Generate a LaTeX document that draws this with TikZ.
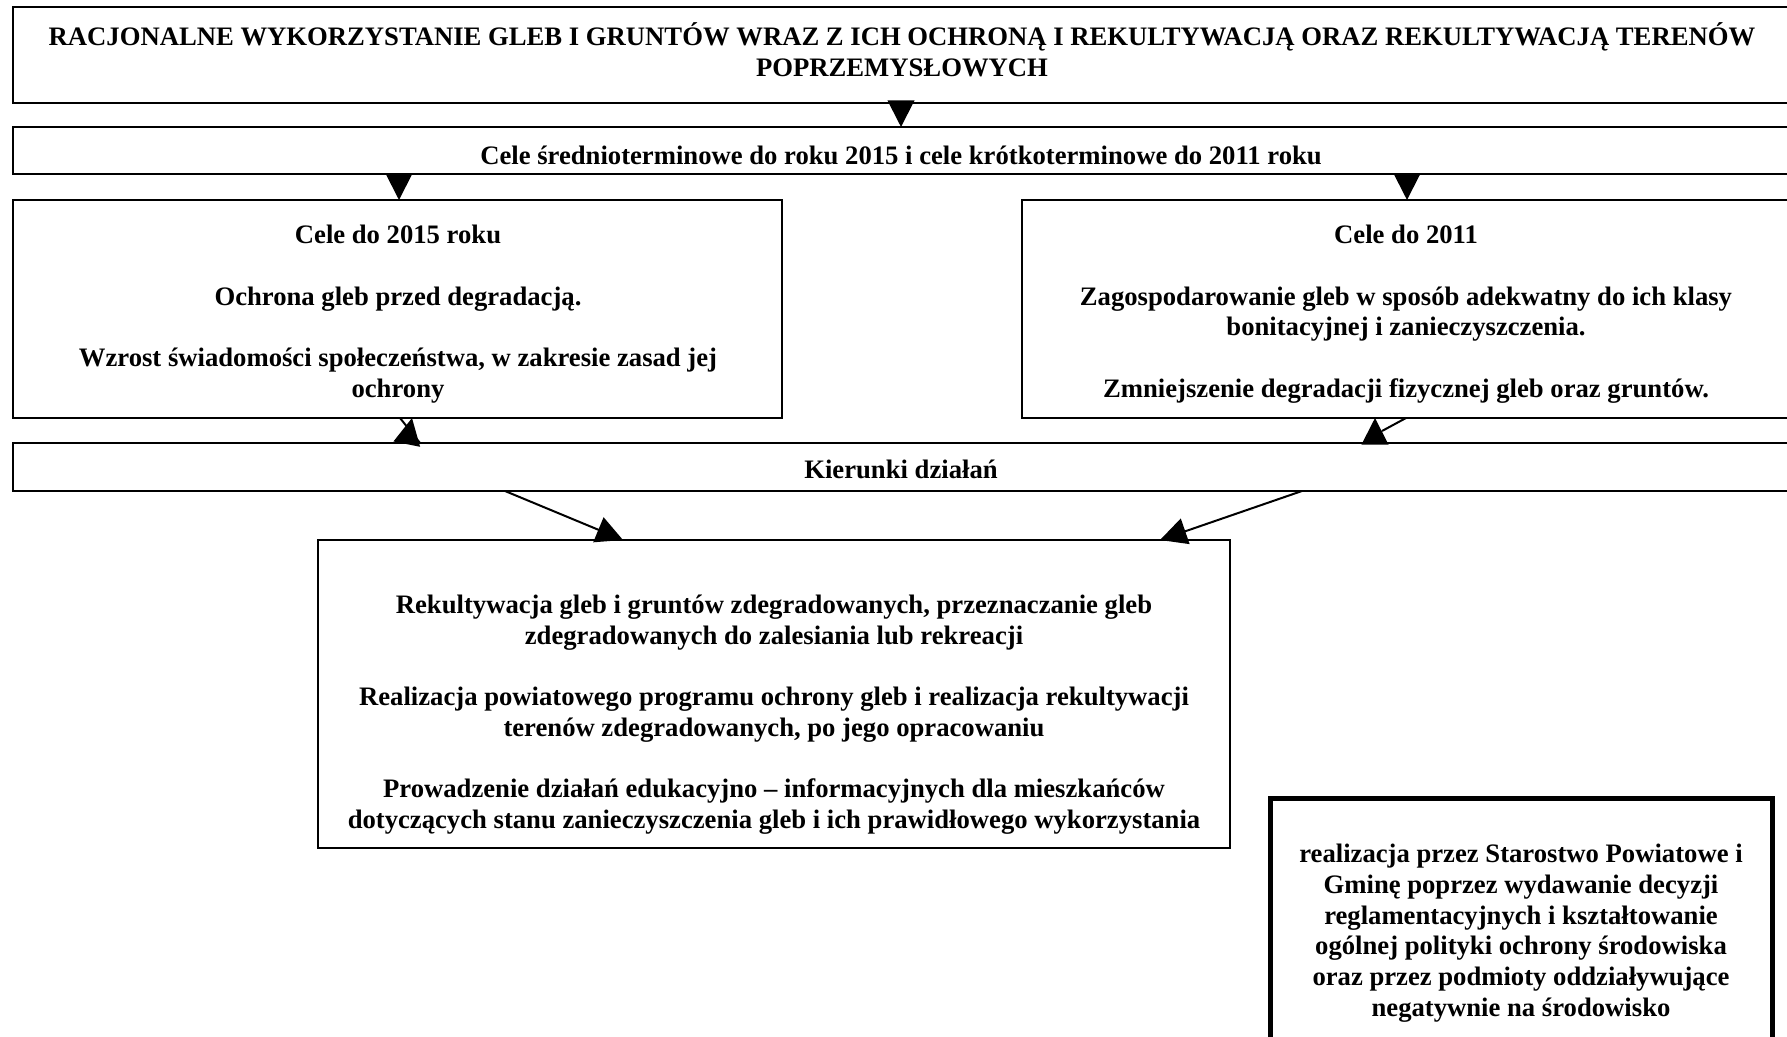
\documentclass[tikz,border=0pt]{standalone}
\usepackage{fontspec}
\setmainfont{Liberation Serif}
\usetikzlibrary{arrows.meta}
\begin{document}
\begin{tikzpicture}[x=0.45pt,y=-0.45pt,
  box/.style={draw, line width=0.9pt, inner sep=0pt, outer sep=0pt, anchor=north west},
  txt/.style={align=center, inner sep=0pt, font=\bfseries\fontsize{12}{13.8}\selectfont,
    execute at begin node=\strut, execute at end node=\strut},
  arr/.style={line width=0.9pt, -{Triangle[length=12pt,width=12pt]}},
  link/.style={line width=0.9pt}]
\useasboundingbox (0,0) rectangle (1787,1037);
\fill[white] (0,0) rectangle (1787,1037);
\clip (0,0) rectangle (1787,1037);

% frames
\node[box, minimum width={1777*0.45pt}, minimum height={96*0.45pt}] (goal) at (13,7) {};
\node[box, minimum width={1777*0.45pt}, minimum height={47*0.45pt}] (terms) at (13,127) {};
\node[box, minimum width={769*0.45pt}, minimum height={218*0.45pt}] (c2015) at (13,200) {};
\node[box, minimum width={768*0.45pt}, minimum height={218*0.45pt}] (c2011) at (1022,200) {};
\node[box, minimum width={1777*0.45pt}, minimum height={48*0.45pt}] (dirs) at (13,443) {};
\node[box, minimum width={912*0.45pt}, minimum height={308*0.45pt}] (acts) at (318,540) {};
\node[box, line width=2.25pt, minimum width={502*0.45pt}, minimum height={280*0.45pt}] (exec) at (1270,798) {};

% texts
\node[txt] (goalT) at (902,54) {RACJONALNE WYKORZYSTANIE GLEB I GRUNTÓW WRAZ Z ICH OCHRONĄ I REKULTYWACJĄ ORAZ REKULTYWACJĄ TERENÓW\\POPRZEMYSŁOWYCH};
\node[txt] (termsT) at (901,158) {Cele średnioterminowe do roku 2015 i cele krótkoterminowe do 2011 roku};
\node[txt] (c2015T) at (398,316) {Cele do 2015 roku\\[\baselineskip]Ochrona gleb przed degradacją.\\[\baselineskip]Wzrost świadomości społeczeństwa, w zakresie zasad jej\\ochrony};
\node[txt] (c2011T) at (1406,316) {Cele do 2011\\[\baselineskip]Zagospodarowanie gleb w sposób adekwatny do ich klasy\\bonitacyjnej i zanieczyszczenia.\\[\baselineskip]Zmniejszenie degradacji fizycznej gleb oraz gruntów.};
\node[txt] (dirsT) at (901,472) {Kierunki działań};
\node[txt] (actsT) at (774,716) {Rekultywacja gleb i gruntów zdegradowanych, przeznaczanie gleb\\zdegradowanych do zalesiania lub rekreacji\\[\baselineskip]Realizacja powiatowego programu ochrony gleb i realizacja rekultywacji\\terenów zdegradowanych, po jego opracowaniu\\[\baselineskip]Prowadzenie działań edukacyjno – informacyjnych dla mieszkańców\\dotyczących stanu zanieczyszczenia gleb i ich prawidłowego wykorzystania};
\node[txt] (execT) at (1521,935) {realizacja przez Starostwo Powiatowe i\\Gminę poprzez wydawanie decyzji\\reglamentacyjnych i kształtowanie\\ogólnej polityki ochrony środowiska\\oraz przez podmioty oddziaływujące\\negatywnie na środowisko};

% attachment abscissae
\coordinate (x399) at (399,0);
\coordinate (x400) at (400,0);
\coordinate (x407) at (407,0);
\coordinate (x412) at (412,0);
\coordinate (x420) at (420,0);
\coordinate (x505) at (505,0);
\coordinate (x623) at (623,0);
\coordinate (x901) at (901,0);
\coordinate (x1160) at (1160,0);
\coordinate (x1302) at (1302,0);
\coordinate (x1375) at (1375,0);
\coordinate (x1406) at (1406,0);
\coordinate (x1407) at (1407,0);
\coordinate (bend) at (1382,431);

% connectors
\draw[arr] (goal.south -| x901) -- (terms.north -| x901);
\draw[arr] (terms.south -| x399) -- (c2015.north -| x399);
\draw[arr] (terms.south -| x1407) -- (c2011.north -| x1407);
\draw[link] (c2015.south -| x400) -- (dirs.north -| x420);
\draw[arr] (dirs.north -| x407) -- (c2015.south -| x412);
\draw[link] (c2011.south -| x1406) -- (bend);
\draw[arr] (dirs.north -| x1375) -- (c2011.south -| x1375);
\draw[arr] (dirs.south -| x505) -- (acts.north -| x623);
\draw[arr] (dirs.south -| x1302) -- (acts.north -| x1160);
\end{tikzpicture}
\end{document}
